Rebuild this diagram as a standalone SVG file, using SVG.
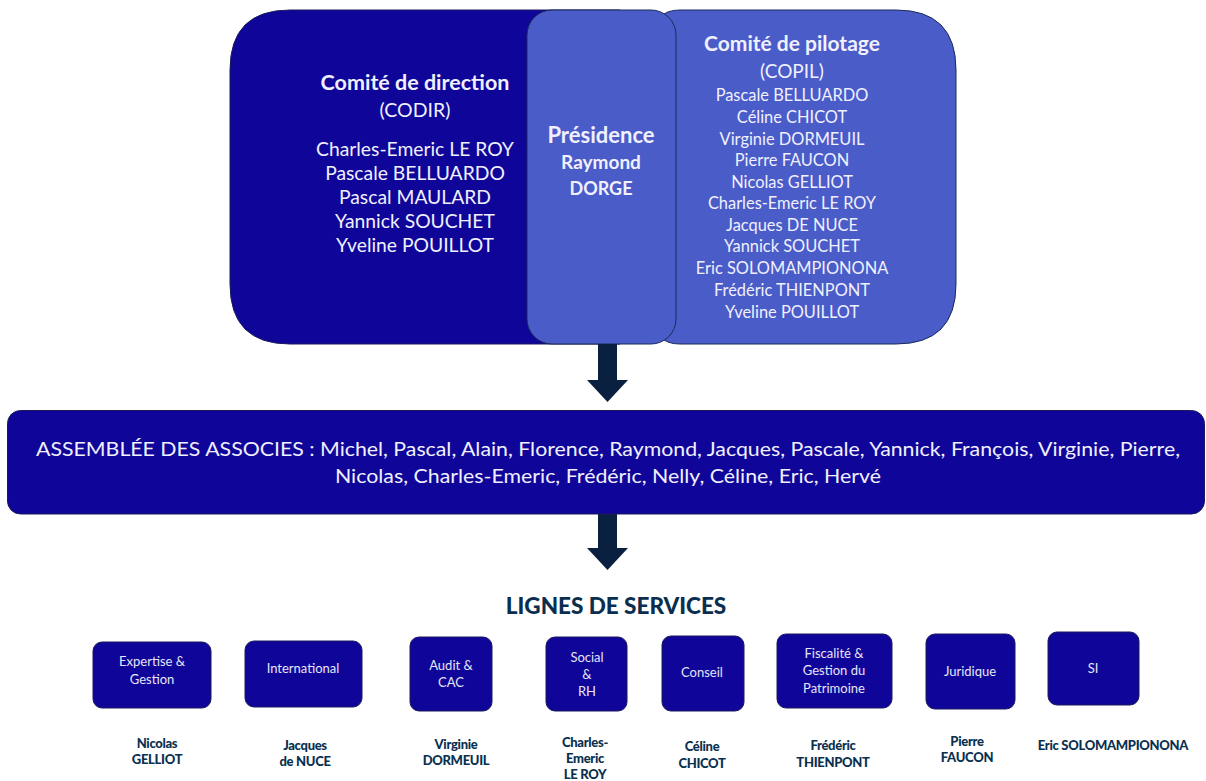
<svg xmlns="http://www.w3.org/2000/svg" width="1206" height="781" viewBox="0 0 1206 781">
<style>
.dark{fill:#0f0599;stroke:#1a1a5a;stroke-width:1}
.light{fill:#4a5cc8;stroke:#1a2a5a;stroke-width:1}
.t{font-family:Lato,"Open Sans",sans-serif;fill:#f0f0ff;text-anchor:middle}
.b{font-weight:bold}
.arrow{fill:#0a2040}
.svc{font-family:Lato,"Open Sans",sans-serif;fill:#e6e6f6;text-anchor:middle;font-size:13px}
.nm{font-family:Lato,"Open Sans",sans-serif;fill:#0a3050;text-anchor:middle;font-size:13px;font-weight:900;letter-spacing:-0.3px}
</style>
<g id="codir">
<path class="dark" d="M290,10 H620 V344 H290 Q230,344 230,284 V70 Q230,10 290,10 Z"/>
<text class="t b" x="415" y="90" font-size="21.5">Comité de direction</text>
<text class="t" x="415" y="117" font-size="19.5">(CODIR)</text>
<text class="t" x="415" y="156" font-size="19.3">Charles-Emeric LE ROY</text>
<text class="t" x="415" y="180" font-size="19.3">Pascale BELLUARDO</text>
<text class="t" x="415" y="204" font-size="19.3">Pascal MAULARD</text>
<text class="t" x="415" y="228" font-size="19.3">Yannick SOUCHET</text>
<text class="t" x="415" y="252" font-size="19.3">Yveline POUILLOT</text>
</g>
<g id="copil">
<path class="light" d="M680,10 H896 Q956,10 956,70 V284 Q956,344 896,344 H680 Q655,344 655,319 V35 Q655,10 680,10 Z"/>
<text class="t b" x="792" y="51" font-size="21">Comité de pilotage</text>
<text class="t" x="792" y="78" font-size="19">(COPIL)</text>
<text class="t" x="792" y="101" font-size="16.4">Pascale BELLUARDO</text>
<text class="t" x="792" y="123" font-size="16.4">Céline CHICOT</text>
<text class="t" x="792" y="145" font-size="16.4">Virginie DORMEUIL</text>
<text class="t" x="792" y="166" font-size="16.4">Pierre FAUCON</text>
<text class="t" x="792" y="188" font-size="16.4">Nicolas GELLIOT</text>
<text class="t" x="792" y="209" font-size="16.4">Charles-Emeric LE ROY</text>
<text class="t" x="792" y="231" font-size="16.4">Jacques DE NUCE</text>
<text class="t" x="792" y="252" font-size="16.4">Yannick SOUCHET</text>
<text class="t" x="792" y="274" font-size="16.4">Eric SOLOMAMPIONONA</text>
<text class="t" x="792" y="296" font-size="16.4">Frédéric THIENPONT</text>
<text class="t" x="792" y="318" font-size="16.4">Yveline POUILLOT</text>
</g>
<g id="presidence">
<rect class="light" x="527" y="10" width="149" height="334" rx="25"/>
<text class="t b" x="601" y="143" font-size="22">Présidence</text>
<text class="t b" x="601" y="169" font-size="19">Raymond</text>
<text class="t b" x="601" y="195" font-size="18">DORGE</text>
</g>
<g id="connectors">
<path class="arrow" d="M598,344 H617 V380 H628 L607.5,402 L587,380 H598 Z"/>
<path class="arrow" d="M598,514 H617 V548 H628 L607.5,570 L587,548 H598 Z"/>
</g>
<g id="assemblee">
<rect class="dark" x="7.5" y="410.5" width="1197" height="103.5" rx="13"/>
<text class="t" font-family="Roboto,sans-serif" x="608" y="456" font-size="19.5" textLength="1144" lengthAdjust="spacingAndGlyphs">ASSEMBLÉE DES ASSOCIES : Michel, Pascal, Alain, Florence, Raymond, Jacques, Pascale, Yannick, François, Virginie, Pierre,</text>
<text class="t" font-family="Roboto,sans-serif" x="608" y="483" font-size="19.5" textLength="546" lengthAdjust="spacingAndGlyphs">Nicolas, Charles-Emeric, Frédéric, Nelly, Céline, Eric, Hervé</text>
</g>
<g id="lignes-title">
<text x="616" y="614" font-family="Lato,sans-serif" font-size="22.5" font-weight="900" fill="#0b2e4f" text-anchor="middle">LIGNES DE SERVICES</text>
</g>
<g id="svc-expertise">
<rect class="dark" x="93" y="642" width="118" height="66" rx="9"/>
<text class="svc" x="152" y="666">Expertise &amp;</text>
<text class="svc" x="152" y="684">Gestion</text>
<text class="nm" x="157" y="748">Nicolas</text>
<text class="nm" x="157" y="764">GELLIOT</text>
</g>
<g id="svc-international">
<rect class="dark" x="245" y="641" width="117" height="66" rx="9"/>
<text class="svc" x="303" y="673">International</text>
<text class="nm" x="305" y="750">Jacques</text>
<text class="nm" x="305" y="766">de NUCE</text>
</g>
<g id="svc-audit">
<rect class="dark" x="410" y="637" width="82" height="74" rx="9"/>
<text class="svc" x="451" y="670">Audit &amp;</text>
<text class="svc" x="451" y="687">CAC</text>
<text class="nm" x="456" y="749">Virginie</text>
<text class="nm" x="456" y="765">DORMEUIL</text>
</g>
<g id="svc-social">
<rect class="dark" x="546" y="637" width="81" height="74" rx="9"/>
<text class="svc" x="587" y="662">Social</text>
<text class="svc" x="587" y="679">&amp;</text>
<text class="svc" x="587" y="696">RH</text>
<text class="nm" x="585" y="747">Charles-</text>
<text class="nm" x="585" y="763">Emeric</text>
<text class="nm" x="585" y="779">LE ROY</text>
</g>
<g id="svc-conseil">
<rect class="dark" x="662" y="636" width="82" height="75" rx="9"/>
<text class="svc" x="702" y="677">Conseil</text>
<text class="nm" x="702" y="751">Céline</text>
<text class="nm" x="702" y="768">CHICOT</text>
</g>
<g id="svc-fiscalite">
<rect class="dark" x="777" y="634" width="115" height="74" rx="9"/>
<text class="svc" x="834" y="658">Fiscalité &amp;</text>
<text class="svc" x="834" y="675">Gestion du</text>
<text class="svc" x="834" y="693">Patrimoine</text>
<text class="nm" x="833" y="750">Frédéric</text>
<text class="nm" x="833" y="767">THIENPONT</text>
</g>
<g id="svc-juridique">
<rect class="dark" x="926" y="634" width="89" height="75" rx="9"/>
<text class="svc" x="970" y="676">Juridique</text>
<text class="nm" x="967" y="746">Pierre</text>
<text class="nm" x="967" y="762">FAUCON</text>
</g>
<g id="svc-si">
<rect class="dark" x="1048" y="632" width="91" height="73" rx="9"/>
<text class="svc" x="1093" y="673">SI</text>
<text class="nm" x="1113" y="750">Eric SOLOMAMPIONONA</text>
</g>
</svg>
